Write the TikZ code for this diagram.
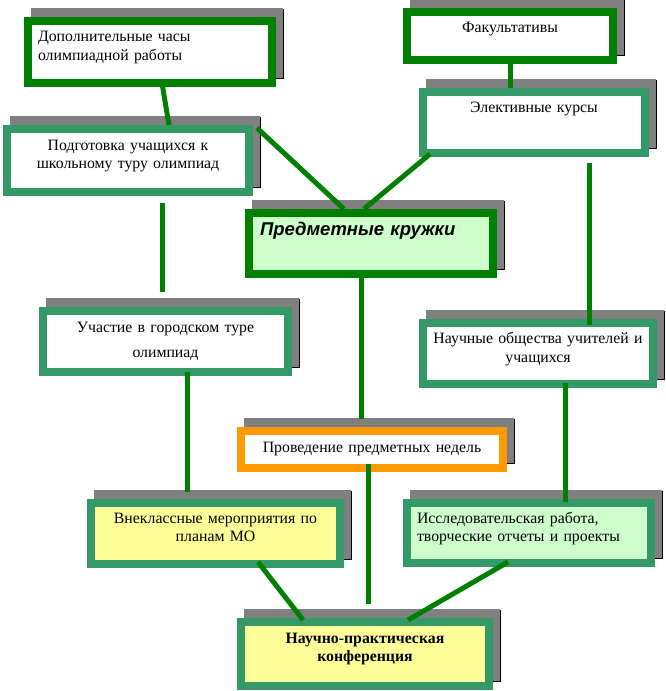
\documentclass[tikz,border=0pt]{standalone}
\usepackage{fontspec}
\setmainfont{Liberation Serif}
\setsansfont{Liberation Sans}
\usetikzlibrary{shadows}

\definecolor{dkgreen}{HTML}{008000}
\definecolor{seagreen}{HTML}{339966}
\definecolor{tangerine}{HTML}{FF9900}
\definecolor{mintfill}{HTML}{CCFFCC}
\definecolor{lemonfill}{HTML}{FFFF99}
\definecolor{shadowgray}{HTML}{808080}

\tikzset{
  box/.style={draw=#1, line width=8pt, fill=white, anchor=north west,
    inner sep=0pt, outer sep=0pt, align=center, font=\fontsize{15.8}{19}\selectfont,
    general shadow={fill=black, draw=black, line width=8pt,
      shadow xshift=8pt, shadow yshift=8pt},
    general shadow={fill=shadowgray, draw=shadowgray, line width=8pt,
      shadow xshift=7pt, shadow yshift=9pt}},
  conn/.style={draw=dkgreen, line width=5pt}
}

\begin{document}
\begin{tikzpicture}[x=1pt,y=-1pt]
  \useasboundingbox (0,0) rectangle (665,691);

  % boxes
  \node[box=dkgreen, align=left, inner xsep=10pt, text width=224pt,
    text height=20pt, text depth=42pt] (dop) at (28,21)
    {Дополнительные часы\\олимпиадной работы};
  \node[box=seagreen, text width=242pt, text height=21pt, text depth=42pt,
    font=\fontsize{15.8}{18}\selectfont] (podg) at (7,129)
    {Подготовка учащихся к\\школьному туру олимпиад};
  \node[box=dkgreen, text width=206pt, text height=20pt, text depth=28pt] (fak) at (407,12)
    {Факультативы};
  \node[box=seagreen, text width=222pt, text height=20pt, text depth=41pt] (elek) at (423,92)
    {Элективные курсы};
  \node[box=dkgreen, fill=mintfill, align=left, inner xsep=11pt, text width=222pt,
    text height=22pt, text depth=39pt,
    font=\sffamily\bfseries\itshape\fontsize{18.5}{20}\selectfont] (pred) at (249,213)
    {Предметные кружки};
  \node[box=seagreen, text width=245pt, text height=21pt, text depth=40pt,
    font=\fontsize{15.8}{25}\selectfont] (uch) at (43,311)
    {Участие в городском туре\\олимпиад};
  \node[box=tangerine, text width=262pt, text height=21pt, text depth=16pt] (prov) at (241,431)
    {Проведение предметных недель};
  \node[box=seagreen, text width=230pt, text height=20pt, text depth=41pt] (nauch) at (423,323)
    {Научные общества учителей и\\учащихся};
  \node[box=seagreen, fill=lemonfill, text width=249pt, text height=20pt,
    text depth=41pt, font=\fontsize{15.8}{18.5}\selectfont] (vnekl) at (91,503)
    {Внеклассные мероприятия по\\планам МО};
  \node[box=seagreen, fill=mintfill, align=left, inner xsep=10pt, text width=224pt,
    text height=20pt, text depth=40pt, font=\fontsize{15.8}{18.5}\selectfont] (issl) at (407,503)
    {Исследовательская работа,\\творческие отчеты и проекты};
  \node[box=seagreen, fill=lemonfill, text width=248pt, text height=21pt,
    text depth=43pt, font=\bfseries\fontsize{15.8}{18.5}\selectfont] (konf) at (241,622)
    {Научно-практическая\\конференция};

  % connectors
  \draw[conn] ([shift={(12,0)}]dop.south) -- ([shift={(41,-4)}]podg.north);
  \draw[conn] ([shift={(8,-1)}]podg.north east) -- ([shift={(-27,-4)}]pred.north);
  \draw[conn] ([shift={(7,1)}]elek.south west) -- ([shift={(-7,-4)}]pred.north);
  \draw[conn] ([shift={(0,0)}]fak.south) -- ([shift={(-24,-4)}]elek.north);
  \draw[conn] ([shift={(55,10)}]elek.south) -- ([shift={(51,2)}]nauch.north);
  \draw[conn] ([shift={(34,11)}]podg.south) -- ([shift={(-3.5,-19)}]uch.north);
  \draw[conn] ([shift={(-10,0)}]pred.south) -- ([shift={(-11,-12)}]prov.north);
  \draw[conn] ([shift={(21.5,0)}]uch.south) -- ([shift={(-28.5,-11)}]vnekl.north);
  \draw[conn] ([shift={(-4,-4)}]prov.south) -- ([shift={(3,-18)}]konf.north);
  \draw[conn] ([shift={(27,-1)}]nauch.south) -- ([shift={(36,-1)}]issl.north);
  \draw[conn] ([shift={(42.5,-2)}]vnekl.south) -- ([shift={(-62,-2)}]konf.north);
  \draw[conn] ([shift={(-21,-1)}]issl.south) -- ([shift={(43,-2)}]konf.north);
\end{tikzpicture}
\end{document}
